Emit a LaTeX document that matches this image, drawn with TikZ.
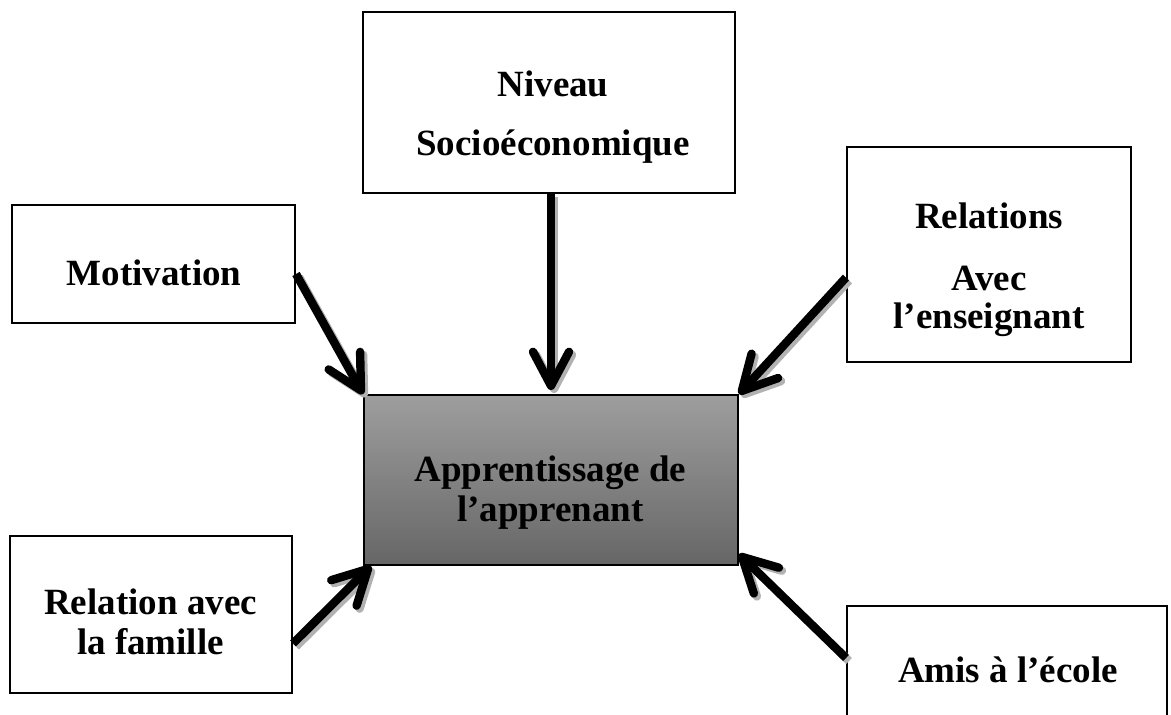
\documentclass[tikz,border=0pt]{standalone}
\usepackage{fontspec}
\setmainfont{Liberation Serif}
\usetikzlibrary{arrows.meta, positioning}

\begin{document}
\begin{tikzpicture}[
    x=0.5pt, y=-0.5pt,
    boite/.style={rectangle, draw, line width=1pt, fill=white, inner sep=0pt},
    texte/.style={align=center, inner sep=0pt, font=\fontsize{18.5}{20}\selectfont\bfseries},
    fleche/.style={line width=4.2pt, -{Straight Barb[length=17pt, width=18pt, round]}},
    ombre/.style={fleche, draw=black!30, transform canvas={xshift=1.5pt, yshift=-1.5pt}}
  ]
  \useasboundingbox (0,0) rectangle (1171,715);

  % Centre
  \node[boite, top color=black!38, bottom color=black!60, minimum width=187pt, minimum height=85pt] (centre) at (551, 480) {};
  \node[texte] (centre-t) at (550.5, 493) {Apprentissage de\\l’apprenant};

  % Facteurs
  \node[boite, minimum width=186pt, minimum height=90.5pt] (niveau) at (549, 102.5) {};
  \node[texte] (niveau-t) at (553, 117) {Niveau\\[9.5pt]Socioéconomique};

  \node[boite, minimum width=141.5pt, minimum height=59pt] (motiv) at (153.5, 264) {};
  \node[texte] (motiv-t) at (154, 273) {Motivation};

  \node[boite, minimum width=142pt, minimum height=107.5pt] (relens) at (989, 254.5) {};
  \node[texte] (relens-t) at (989, 270) {Relations\\[11pt]Avec\\[-1pt]l’enseignant};

  \node[boite, minimum width=141pt, minimum height=78.5pt] (famille) at (151, 614.5) {};
  \node[texte] (famille-t) at (150.5, 621.5) {Relation avec\\la famille};

  \node[boite, minimum width=160pt, minimum height=67pt] (amis) at (1007, 673) {};
  \node[texte] (amis-t) at (1008, 670) {Amis à l’école};

  % Bouts des fleches
  \coordinate (niveau-d) at (centre.north |- niveau.south);
  \coordinate (niveau-a) at ([yshift=2pt]centre.north);
  \coordinate (motiv-d) at ([yshift=-5pt]motiv.east);
  \coordinate (motiv-a) at (centre.north west);
  \coordinate (relens-d) at ([yshift=-11.5pt]relens.west);
  \coordinate (relens-a) at (centre.north east);
  \coordinate (famille-d) at ([yshift=-14.5pt]famille.east);
  \coordinate (famille-a) at ([xshift=4pt]centre.south west);
  \coordinate (amis-d) at ([yshift=7.5pt]amis.west);
  \coordinate (amis-a) at ([yshift=6pt]centre.south east);

  % Fleches (ombre puis trait)
  \foreach \f in {niveau, motiv, relens, famille, amis} {
    \draw[ombre] (\f-d) -- (\f-a);
    \draw[fleche] (\f-d) -- (\f-a);
  }
\end{tikzpicture}
\end{document}
